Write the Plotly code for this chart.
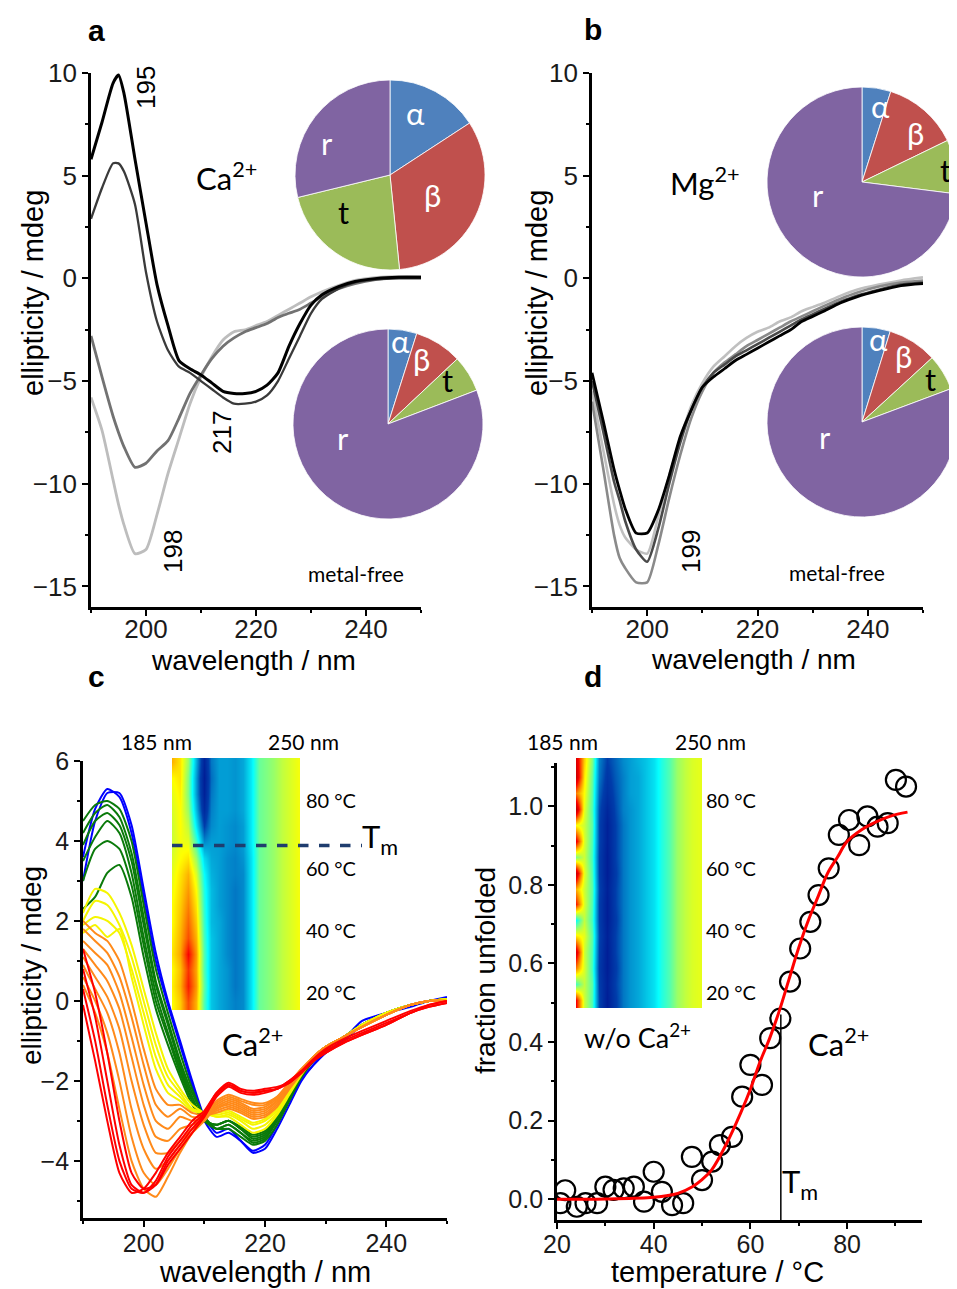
import plotly.graph_objects as go

# The page body adds an 8 px margin, so the figure is drawn 8 px smaller and every
# reference pixel position is shifted by that amount.
OFF = 8
W, H = 957 - OFF, 1289 - OFF
def fx(p): return (p - OFF) / W
def fy(p): return 1 - (p - OFF) / H

ARIAL = "Liberation Sans, Arial, sans-serif"
CALI = "Lato, Open Sans, sans-serif"

# ---------------- panel a / b data ----------------
WL_AB = [190, 192, 194, 195, 196, 198, 200, 202, 204, 206, 208, 210, 212, 214, 216, 218,
         220, 222, 224, 226, 228, 230, 232, 235, 238, 242, 246, 250]
A_BLACK = [5.8, 7.6, 9.5, 9.9, 9.0, 5.8, 2.7, -0.3, -2.3, -4.0, -4.4, -4.7, -5.1, -5.5, -5.6, -5.6,
           -5.5, -5.2, -4.6, -3.3, -2.2, -1.3, -0.8, -0.4, -0.15, 0.0, 0.05, 0.05]
A_DARK = [2.9, 4.4, 5.6, 5.6, 5.2, 3.6, 0.3, -2.1, -3.5, -4.3, -4.6, -5.0, -5.4, -5.8, -6.1, -6.1,
          -6.0, -5.7, -5.0, -3.9, -2.8, -1.7, -1.0, -0.5, -0.2, -0.05, 0.0, 0.0]
A_GRAY = [-2.8, -4.8, -6.7, -7.5, -8.2, -9.2, -9.0, -8.4, -7.9, -6.8, -5.6, -4.7, -3.9, -3.3, -2.9, -2.6,
          -2.4, -2.2, -1.9, -1.7, -1.5, -1.2, -0.9, -0.5, -0.25, -0.05, 0.05, 0.05]
A_LIGHT = [-5.8, -7.4, -9.8, -11.0, -12.0, -13.4, -13.2, -11.5, -9.5, -7.8, -6.1, -4.8, -3.8, -3.0, -2.6, -2.5,
           -2.3, -2.1, -1.8, -1.5, -1.2, -0.9, -0.65, -0.35, -0.1, 0.05, 0.1, 0.1]

B_BLACK = [-4.6, -6.9, -9.3, -10.3, -11.2, -12.4, -12.4, -11.3, -9.6, -7.7, -6.4, -5.3, -4.8, -4.4, -4.0, -3.7,
           -3.4, -3.1, -2.8, -2.5, -2.1, -1.85, -1.6, -1.2, -0.9, -0.6, -0.35, -0.25]
B_DARK = [-5.0, -7.4, -9.9, -10.8, -11.8, -13.2, -13.8, -12.2, -10.0, -8.0, -6.4, -5.3, -4.6, -4.2, -3.8, -3.5,
          -3.2, -2.9, -2.6, -2.3, -2.0, -1.75, -1.5, -1.15, -0.85, -0.55, -0.3, -0.2]
B_GRAY = [-6.0, -9.2, -12.5, -13.6, -14.1, -14.8, -14.8, -13.0, -10.7, -8.6, -6.8, -5.5, -4.6, -4.1, -3.7, -3.3,
          -3.0, -2.7, -2.4, -2.1, -1.85, -1.6, -1.35, -1.0, -0.7, -0.4, -0.2, -0.1]
B_LIGHT = [-5.5, -8.3, -11.0, -12.0, -12.6, -13.2, -13.4, -11.6, -9.6, -7.8, -6.2, -5.1, -4.3, -3.8, -3.3, -2.9,
           -2.6, -2.4, -2.1, -1.9, -1.6, -1.4, -1.2, -0.85, -0.55, -0.3, -0.1, 0.05]

PIE_LABELS = ["α", "β", "t", "r"]
PIE_COLORS = ["#4f81bd", "#c0504d", "#9bbb59", "#8064a2"]
PIE_A_CA = [15.8, 32.6, 22.8, 28.8]
PIE_A_FREE = [4.9, 8.1, 6.2, 80.8]
PIE_B_MG = [4.9, 12.9, 9.2, 73.0]
PIE_B_FREE = [4.8, 8.4, 6.1, 80.7]

# ---------------- panel c data ----------------
WL_C = [190, 192, 194, 196, 198, 200, 202, 204, 206, 208, 210, 212, 214, 216, 218, 220, 222, 224,
        226, 228, 230, 233, 236, 240, 244, 247, 250]
C_BLUE = [
    [3.0, 4.5, 5.2, 5.2, 4.4, 2.8, 1.2, 0.0, -1.0, -2.0, -2.9, -3.3, -3.2, -3.5, -3.8, -3.7, -3.2, -2.6, -2.0, -1.6, -1.3, -0.95, -0.5, -0.3, -0.15, 0.0, 0.05],
    [3.6, 4.8, 5.3, 5.1, 4.2, 2.6, 1.0, -0.1, -1.1, -2.1, -3.0, -3.4, -3.3, -3.5, -3.75, -3.6, -3.1, -2.5, -1.95, -1.6, -1.3, -1.0, -0.6, -0.3, -0.1, 0.0, 0.1],
]
C_GREEN = [
    [4.5, 4.9, 5.0, 4.8, 4.0, 2.4, 0.8, -0.3, -1.3, -2.2, -2.9, -3.2, -3.2, -3.4, -3.6, -3.5, -3.1, -2.5, -1.9, -1.5, -1.2, -0.9, -0.6, -0.3, -0.1, 0.0, 0.05],
    [4.2, 4.7, 4.9, 4.6, 3.7, 2.1, 0.5, -0.5, -1.5, -2.3, -2.9, -3.2, -3.1, -3.3, -3.55, -3.45, -3.0, -2.45, -1.9, -1.5, -1.2, -0.9, -0.6, -0.3, -0.1, 0.0, 0.05],
    [3.9, 4.5, 4.7, 4.4, 3.5, 1.9, 0.4, -0.6, -1.6, -2.4, -3.0, -3.2, -3.1, -3.3, -3.5, -3.4, -3.0, -2.4, -1.85, -1.5, -1.2, -0.9, -0.6, -0.3, -0.1, 0.0, 0.05],
    [3.5, 4.1, 4.5, 4.2, 3.2, 1.6, 0.2, -0.8, -1.7, -2.5, -3.0, -3.1, -3.0, -3.2, -3.45, -3.35, -2.95, -2.4, -1.85, -1.45, -1.15, -0.9, -0.6, -0.3, -0.1, 0.0, 0.05],
    [3.0, 3.8, 4.0, 3.8, 2.9, 1.4, 0.0, -0.9, -1.8, -2.5, -3.0, -3.1, -3.0, -3.2, -3.4, -3.3, -2.9, -2.35, -1.8, -1.45, -1.15, -0.9, -0.6, -0.3, -0.1, 0.0, 0.05],
    [2.3, 2.6, 3.2, 3.4, 2.6, 1.1, -0.2, -1.1, -1.9, -2.6, -3.0, -3.1, -3.0, -3.15, -3.35, -3.25, -2.85, -2.3, -1.8, -1.45, -1.15, -0.9, -0.6, -0.3, -0.1, 0.0, 0.05],
]
C_YELLOW = [
    [2.2, 2.8, 2.7, 2.2, 1.4, 0.3, -0.8, -1.7, -2.2, -2.6, -2.8, -2.9, -2.9, -3.1, -3.3, -3.2, -2.85, -2.35, -1.85, -1.45, -1.15, -0.9, -0.6, -0.3, -0.1, 0.0, 0.05],
    [2.0, 2.5, 2.4, 1.9, 1.1, 0.0, -1.1, -1.9, -2.3, -2.7, -2.8, -2.9, -2.85, -3.0, -3.2, -3.1, -2.8, -2.3, -1.8, -1.45, -1.15, -0.9, -0.6, -0.3, -0.1, 0.0, 0.05],
    [1.9, 2.1, 2.0, 1.7, 0.8, -0.3, -1.4, -2.1, -2.4, -2.7, -2.8, -2.85, -2.8, -2.95, -3.1, -3.0, -2.75, -2.3, -1.8, -1.4, -1.15, -0.9, -0.6, -0.3, -0.1, 0.0, 0.05],
    [1.7, 1.9, 1.6, 1.8, 0.6, -0.6, -1.7, -2.3, -2.5, -2.75, -2.8, -2.8, -2.75, -2.9, -3.05, -2.95, -2.7, -2.25, -1.8, -1.4, -1.15, -0.9, -0.6, -0.3, -0.1, 0.0, 0.05],
]
C_ORANGE = [
    [2.0, 1.7, 1.5, 1.0, 0.0, -1.2, -2.2, -2.6, -2.6, -2.8, -2.85, -2.8, -2.7, -2.8, -2.95, -2.9, -2.65, -2.2, -1.8, -1.4, -1.15, -0.9, -0.65, -0.35, -0.1, 0.0, 0.0],
    [1.8, 1.5, 1.2, 0.6, -0.4, -1.6, -2.6, -2.9, -2.7, -2.9, -2.9, -2.75, -2.65, -2.75, -2.9, -2.85, -2.6, -2.2, -1.8, -1.4, -1.15, -0.9, -0.65, -0.35, -0.1, 0.0, 0.0],
    [1.5, 1.2, 0.9, 0.2, -0.9, -2.1, -3.0, -3.2, -2.9, -3.0, -2.9, -2.7, -2.6, -2.7, -2.85, -2.8, -2.55, -2.15, -1.75, -1.4, -1.15, -0.9, -0.65, -0.35, -0.1, 0.0, 0.0],
    [1.3, 0.9, 0.5, -0.2, -1.4, -2.6, -3.4, -3.5, -3.2, -3.1, -2.95, -2.7, -2.55, -2.65, -2.8, -2.75, -2.5, -2.15, -1.75, -1.4, -1.15, -0.9, -0.65, -0.35, -0.1, 0.0, 0.0],
    [1.1, 0.6, 0.1, -0.7, -2.0, -3.1, -3.8, -3.8, -3.5, -3.2, -3.0, -2.65, -2.5, -2.6, -2.75, -2.7, -2.5, -2.1, -1.75, -1.4, -1.15, -0.9, -0.65, -0.35, -0.1, 0.0, 0.0],
    [0.9, 0.3, -0.3, -1.3, -2.7, -3.7, -4.2, -4.0, -3.6, -3.3, -3.0, -2.6, -2.45, -2.55, -2.7, -2.65, -2.45, -2.1, -1.75, -1.4, -1.15, -0.9, -0.65, -0.35, -0.1, 0.0, 0.0],
    [0.6, 0.0, -0.8, -2.0, -3.4, -4.3, -4.6, -4.2, -3.7, -3.3, -2.95, -2.55, -2.4, -2.5, -2.6, -2.6, -2.4, -2.05, -1.7, -1.4, -1.15, -0.9, -0.65, -0.35, -0.1, 0.0, 0.0],
    [0.4, -0.3, -1.3, -2.7, -4.0, -4.7, -4.9, -4.4, -3.8, -3.3, -2.9, -2.5, -2.35, -2.45, -2.55, -2.55, -2.4, -2.05, -1.7, -1.4, -1.15, -0.9, -0.65, -0.35, -0.1, 0.0, 0.0],
]
C_RED = [
    [1.3, 0.2, -1.3, -3.0, -4.3, -4.7, -4.6, -4.1, -3.7, -3.3, -2.9, -2.4, -2.15, -2.3, -2.35, -2.3, -2.2, -2.0, -1.75, -1.45, -1.2, -0.95, -0.75, -0.5, -0.25, -0.1, 0.0],
    [0.8, -0.4, -2.0, -3.6, -4.6, -4.8, -4.6, -4.0, -3.6, -3.2, -2.85, -2.35, -2.1, -2.25, -2.3, -2.25, -2.2, -2.0, -1.8, -1.5, -1.25, -1.0, -0.8, -0.55, -0.3, -0.1, 0.0],
    [0.3, -1.0, -2.6, -4.0, -4.7, -4.8, -4.5, -3.9, -3.5, -3.1, -2.8, -2.3, -2.1, -2.25, -2.3, -2.25, -2.2, -2.05, -1.8, -1.5, -1.3, -1.05, -0.85, -0.6, -0.3, -0.15, -0.05],
    [-0.1, -1.5, -3.0, -4.3, -4.8, -4.7, -4.3, -3.8, -3.4, -3.0, -2.75, -2.3, -2.05, -2.2, -2.25, -2.2, -2.15, -2.05, -1.8, -1.5, -1.3, -1.05, -0.85, -0.6, -0.3, -0.15, -0.05],
]

# heat-map insets (wavelength columns x temperature rows), colour value on a jet scale
HM_WL = [185, 189, 193, 197, 201, 205, 209, 213, 217, 221, 225, 229, 233, 237, 241, 245, 249]
HM_T = [17, 22, 27, 32, 37, 42, 47, 52, 57, 62, 67, 72, 77, 82, 87, 92]
HM_CA = [
    [0.60, 0.64, 0.74, 0.66, 0.46, 0.34, 0.31, 0.29, 0.27, 0.28, 0.37, 0.48, 0.50, 0.52, 0.55, 0.57, 0.59],
    [0.61, 0.66, 0.78, 0.68, 0.47, 0.34, 0.31, 0.29, 0.26, 0.28, 0.37, 0.48, 0.50, 0.52, 0.55, 0.57, 0.59],
    [0.60, 0.65, 0.76, 0.67, 0.46, 0.34, 0.31, 0.29, 0.26, 0.28, 0.37, 0.48, 0.50, 0.52, 0.55, 0.57, 0.59],
    [0.62, 0.67, 0.80, 0.68, 0.46, 0.34, 0.31, 0.28, 0.26, 0.28, 0.37, 0.48, 0.50, 0.52, 0.55, 0.57, 0.59],
    [0.61, 0.66, 0.74, 0.66, 0.45, 0.34, 0.31, 0.28, 0.26, 0.28, 0.37, 0.48, 0.50, 0.52, 0.55, 0.57, 0.59],
    [0.60, 0.65, 0.72, 0.64, 0.44, 0.33, 0.31, 0.28, 0.26, 0.28, 0.37, 0.48, 0.50, 0.52, 0.55, 0.57, 0.59],
    [0.60, 0.64, 0.70, 0.62, 0.43, 0.33, 0.30, 0.28, 0.26, 0.28, 0.37, 0.48, 0.50, 0.52, 0.55, 0.57, 0.59],
    [0.59, 0.63, 0.68, 0.60, 0.42, 0.33, 0.30, 0.28, 0.26, 0.28, 0.37, 0.48, 0.50, 0.52, 0.55, 0.57, 0.59],
    [0.58, 0.62, 0.66, 0.57, 0.40, 0.32, 0.30, 0.28, 0.27, 0.28, 0.37, 0.48, 0.50, 0.52, 0.55, 0.57, 0.59],
    [0.57, 0.60, 0.62, 0.52, 0.36, 0.31, 0.30, 0.28, 0.27, 0.29, 0.37, 0.48, 0.50, 0.52, 0.55, 0.57, 0.59],
    [0.56, 0.59, 0.58, 0.45, 0.28, 0.30, 0.30, 0.29, 0.28, 0.30, 0.38, 0.48, 0.50, 0.52, 0.55, 0.57, 0.59],
    [0.56, 0.60, 0.55, 0.38, 0.20, 0.28, 0.30, 0.29, 0.28, 0.30, 0.38, 0.48, 0.50, 0.52, 0.55, 0.57, 0.59],
    [0.57, 0.60, 0.52, 0.33, 0.14, 0.27, 0.30, 0.30, 0.29, 0.31, 0.38, 0.48, 0.50, 0.52, 0.55, 0.57, 0.59],
    [0.58, 0.61, 0.50, 0.30, 0.11, 0.26, 0.30, 0.30, 0.29, 0.31, 0.38, 0.48, 0.50, 0.52, 0.55, 0.57, 0.59],
    [0.60, 0.62, 0.50, 0.30, 0.10, 0.25, 0.30, 0.30, 0.29, 0.31, 0.38, 0.48, 0.50, 0.52, 0.55, 0.57, 0.59],
    [0.66, 0.62, 0.52, 0.32, 0.12, 0.26, 0.30, 0.30, 0.29, 0.31, 0.38, 0.48, 0.50, 0.52, 0.55, 0.57, 0.59],
]
HM_NOCA = [
    [0.80, 0.56, 0.46, 0.21, 0.10, 0.19, 0.26, 0.29, 0.31, 0.34, 0.37, 0.42, 0.46, 0.52, 0.55, 0.57, 0.58],
    [0.45, 0.55, 0.47, 0.20, 0.11, 0.20, 0.26, 0.29, 0.31, 0.34, 0.37, 0.42, 0.46, 0.52, 0.55, 0.57, 0.58],
    [0.70, 0.57, 0.45, 0.19, 0.10, 0.19, 0.26, 0.29, 0.31, 0.34, 0.37, 0.42, 0.46, 0.52, 0.55, 0.57, 0.58],
    [0.85, 0.56, 0.46, 0.20, 0.10, 0.20, 0.26, 0.29, 0.31, 0.34, 0.37, 0.42, 0.46, 0.52, 0.55, 0.57, 0.58],
    [0.62, 0.58, 0.47, 0.21, 0.11, 0.20, 0.26, 0.29, 0.31, 0.34, 0.37, 0.42, 0.46, 0.52, 0.55, 0.57, 0.58],
    [0.40, 0.55, 0.45, 0.20, 0.10, 0.19, 0.26, 0.29, 0.31, 0.34, 0.37, 0.42, 0.46, 0.52, 0.55, 0.57, 0.58],
    [0.78, 0.57, 0.46, 0.20, 0.10, 0.20, 0.26, 0.29, 0.31, 0.34, 0.37, 0.42, 0.46, 0.52, 0.55, 0.57, 0.58],
    [0.66, 0.56, 0.47, 0.21, 0.11, 0.20, 0.26, 0.29, 0.31, 0.34, 0.37, 0.42, 0.46, 0.52, 0.55, 0.57, 0.58],
    [0.88, 0.58, 0.46, 0.20, 0.10, 0.19, 0.26, 0.29, 0.31, 0.34, 0.37, 0.42, 0.46, 0.52, 0.55, 0.57, 0.58],
    [0.50, 0.56, 0.45, 0.20, 0.10, 0.20, 0.26, 0.29, 0.31, 0.34, 0.37, 0.42, 0.46, 0.52, 0.55, 0.57, 0.58],
    [0.82, 0.57, 0.46, 0.21, 0.11, 0.20, 0.26, 0.29, 0.31, 0.34, 0.37, 0.42, 0.46, 0.52, 0.55, 0.57, 0.58],
    [0.60, 0.56, 0.47, 0.21, 0.11, 0.20, 0.26, 0.29, 0.31, 0.34, 0.37, 0.42, 0.46, 0.52, 0.55, 0.57, 0.58],
    [0.90, 0.58, 0.46, 0.22, 0.13, 0.21, 0.27, 0.29, 0.31, 0.34, 0.37, 0.42, 0.46, 0.52, 0.55, 0.57, 0.58],
    [0.70, 0.60, 0.47, 0.24, 0.16, 0.22, 0.27, 0.30, 0.31, 0.34, 0.37, 0.42, 0.46, 0.52, 0.55, 0.57, 0.58],
    [0.88, 0.62, 0.48, 0.26, 0.18, 0.23, 0.27, 0.30, 0.31, 0.34, 0.37, 0.42, 0.46, 0.52, 0.55, 0.57, 0.58],
    [0.85, 0.64, 0.50, 0.27, 0.20, 0.24, 0.28, 0.30, 0.32, 0.34, 0.37, 0.42, 0.46, 0.52, 0.55, 0.57, 0.58],
]
T_M = 65.8

# ---------------- panel d data ----------------
T_D = [20.7, 21.7, 24.1, 25.9, 28.3, 30.0, 31.7, 33.8, 35.9, 38.0, 40.0, 41.7, 43.8, 46.1, 47.9,
       50.0, 52.1, 53.7, 56.2, 58.3, 60.0, 62.4, 64.1, 66.2, 68.2, 70.3, 72.4, 74.1, 76.2, 78.3,
       80.4, 82.5, 84.2, 86.3, 88.4, 90.1, 92.2]
F_D = [-0.01, 0.023, -0.019, -0.01, -0.01, 0.032, 0.024, 0.028, 0.032, -0.006, 0.07, 0.019, -0.015,
       -0.01, 0.108, 0.049, 0.096, 0.138, 0.159, 0.261, 0.342, 0.291, 0.41, 0.46, 0.554, 0.638,
       0.706, 0.774, 0.842, 0.927, 0.965, 0.901, 0.974, 0.948, 0.957, 1.067, 1.05]
FIT_T = [20, 30, 40, 45, 48, 50, 52, 55, 58, 60, 62, 64, 66, 68, 70, 72, 74, 76, 78, 80, 83, 86, 89, 92.5]
FIT_F = [0.0, 0.001, 0.005, 0.015, 0.032, 0.05, 0.075, 0.14, 0.22, 0.28, 0.35, 0.41, 0.48, 0.56,
         0.64, 0.71, 0.77, 0.83, 0.87, 0.91, 0.94, 0.96, 0.975, 0.985]
TM_D = 66.3
TM_LINE_F = [-0.06, 0.47]

fig = go.Figure()

def line(x, y, color, width, xa, ya, shape="spline"):
    fig.add_trace(go.Scatter(x=x, y=y, mode="lines", xaxis=xa, yaxis=ya,
                             line=dict(color=color, width=width, shape=shape, smoothing=0.6),
                             showlegend=False, hoverinfo="skip"))

# panel a
line(WL_AB, A_LIGHT, "#bdbdbd", 2.8, "x", "y")
line(WL_AB, A_GRAY, "#727272", 2.8, "x", "y")
line(WL_AB, A_DARK, "#3a3a3a", 2.3, "x", "y")
line(WL_AB, A_BLACK, "#000000", 3.0, "x", "y")
# panel b
line(WL_AB, B_LIGHT, "#c0c0c0", 2.6, "x2", "y2")
line(WL_AB, B_GRAY, "#8a8a8a", 2.6, "x2", "y2")
line(WL_AB, B_DARK, "#4a4a4a", 2.6, "x2", "y2")
line(WL_AB, B_BLACK, "#000000", 2.8, "x2", "y2")
# panel c
for grp, col in [(C_BLUE, "#0000ff"), (C_GREEN, "#0a7a0a"), (C_YELLOW, "#f5f500"),
                 (C_ORANGE, "#ff8a1a"), (C_RED, "#ff0000")]:
    for ys in grp:
        line(WL_C, ys, col, 2.0, "x3", "y3")

# heat maps
for z, xa, ya in [(HM_CA, "x5", "y5"), (HM_NOCA, "x6", "y6")]:
    fig.add_trace(go.Heatmap(x=HM_WL, y=HM_T, z=z, zmin=0, zmax=1, colorscale="Jet",
                             zsmooth="best", showscale=False, xaxis=xa, yaxis=ya, hoverinfo="skip"))

# panel d
fig.add_trace(go.Scatter(x=[TM_D, TM_D], y=TM_LINE_F, mode="lines", xaxis="x4", yaxis="y4",
                         line=dict(color="black", width=1.5), showlegend=False, hoverinfo="skip"))
fig.add_trace(go.Scatter(x=T_D, y=F_D, mode="markers", xaxis="x4", yaxis="y4",
                         marker=dict(symbol="circle-open", size=20, color="black", line=dict(width=2.2)),
                         showlegend=False, hoverinfo="skip"))
fig.add_trace(go.Scatter(x=FIT_T, y=FIT_F, mode="lines", xaxis="x4", yaxis="y4",
                         line=dict(color="#ff0000", width=3, shape="spline"),
                         showlegend=False, hoverinfo="skip"))

# pies
def pie(vals, cx, cy, r):
    fig.add_trace(go.Pie(values=vals, labels=PIE_LABELS, sort=False, direction="clockwise",
                         rotation=0, textinfo="none", hoverinfo="skip", showlegend=False,
                         marker=dict(colors=PIE_COLORS, line=dict(color="white", width=0.8)),
                         domain=dict(x=[fx(cx - r), min(1.0, fx(cx + r))], y=[fy(cy + r), fy(cy - r)])))

pie(PIE_A_CA, 390, 175, 95)
pie(PIE_A_FREE, 388, 424, 95)
pie(PIE_B_MG, 862, 182, 95)
pie(PIE_B_FREE, 862, 422, 95)

def axis(x0, x1, rng, dtick, tick0, mdtick, mtick0, anchor, horiz=True, fmt=None, size=26, standoff=0):
    d = dict(domain=[fx(x0), fx(x1)] if horiz else [fy(x1), fy(x0)], range=rng, anchor=anchor,
             automargin=False,
             showline=True, linewidth=2.8, linecolor="black", ticks="outside", ticklen=6,
             tickwidth=2.4, tickcolor="black", dtick=dtick, tick0=tick0,
             minor=dict(ticks="outside", ticklen=3.5, tickwidth=2, tickcolor="black",
                        dtick=mdtick, tick0=mtick0),
             showgrid=False, zeroline=False, fixedrange=True,
             tickfont=dict(family=ARIAL, size=size, color="#1a1a1a"))
    if standoff:
        d["ticklabelstandoff"] = standoff
    if fmt:
        d["tickformat"] = fmt
    return d

inset_common = dict(showline=False, showticklabels=False, ticks="", showgrid=False,
                    zeroline=False, fixedrange=True, automargin=False)

fig.update_layout(
    width=W, height=H, margin=dict(l=0, r=0, t=0, b=0, autoexpand=False),
    paper_bgcolor="white", plot_bgcolor="rgba(0,0,0,0)",
    xaxis=axis(91, 421, [190, 250], 20, 200, 10, 190, "y", standoff=-9),
    yaxis=axis(73, 607, [-16, 10], 5, 0, 2.5, 0, "x", horiz=False),
    xaxis2=axis(592, 923, [190, 250], 20, 200, 10, 190, "y2", standoff=-9),
    yaxis2=axis(73, 607, [-16, 10], 5, 0, 2.5, 0, "x2", horiz=False),
    xaxis3=axis(83, 447, [190, 250], 20, 200, 10, 190, "y3", size=25, standoff=-5),
    yaxis3=axis(761, 1218, [-5.43, 6], 2, 0, 1, 0, "x3", horiz=False, size=25),
    xaxis4=axis(557, 922, [20, 95.5], 20, 20, 10, 20, "y4", size=25, standoff=-6),
    yaxis4=axis(763, 1220, [-0.0527, 1.11], 0.2, 0, 0.1, 0, "x4", horiz=False, fmt=".1f", size=25),
    xaxis5=dict(domain=[fx(172), fx(300)], range=[185, 250], anchor="y5", **inset_common),
    yaxis5=dict(domain=[fy(1010), fy(758)], range=[14.4, 93.1], anchor="x5", **inset_common),
    xaxis6=dict(domain=[fx(576), fx(702)], range=[185, 250], anchor="y6", **inset_common),
    yaxis6=dict(domain=[fy(1008), fy(758)], range=[14.4, 93.1], anchor="x6", **inset_common),
)

# Tm dashed line in panel c inset
fig.add_shape(type="line", xref="paper", yref="y5", x0=fx(172), x1=fx(362), y0=T_M, y1=T_M,
              line=dict(color="#1f3d6e", width=3.5, dash="dash"))

anns = []
def ann(text, x, y, size, family=ARIAL, color="black", angle=0, xanchor="center"):
    anns.append(dict(text=text, x=fx(x), y=fy(y), xref="paper", yref="paper", showarrow=False,
                     textangle=angle, xanchor=xanchor, yanchor="middle",
                     font=dict(family=family, size=size, color=color)))

# panel letters
for t, x, y in [("a", 96, 30), ("b", 593, 29), ("c", 96, 676), ("d", 593, 676)]:
    ann("<b>%s</b>" % t, x, y, 30)

# axis titles
ann("ellipticity / mdeg", 33, 293, 29, angle=-90)
ann("ellipticity / mdeg", 537, 293, 29, angle=-90)
ann("ellipticity / mdeg", 31, 966, 28, angle=-90)
ann("fraction unfolded", 486, 970, 28, angle=-90)
ann("wavelength / nm", 253, 660, 28)
ann("wavelength / nm", 753, 659, 28)
ann("wavelength / nm", 265, 1272, 29)
ann("temperature / °C", 717, 1272, 29)

# band labels
ann("195", 146, 88, 26, angle=-90)
ann("217", 222, 433, 26, angle=-90)
ann("198", 173, 552, 26, angle=-90)
ann("199", 691, 552, 26, angle=-90)

ann("Ca<sup>2+</sup>", 226, 176, 31, family=CALI)
ann("Mg<sup>2+</sup>", 705, 181, 31, family=CALI)
ann("metal-free", 356, 573, 21, family=CALI)
ann("metal-free", 837, 572, 21, family=CALI)

# pie labels
for t, x, y, c in [("α", 415, 113, "white"), ("β", 432, 195, "white"), ("t", 343, 212, "black"),
                   ("r", 327, 143, "white"),
                   ("α", 400, 341, "white"), ("β", 421, 359, "white"), ("t", 447, 380, "black"),
                   ("r", 343, 438, "white"),
                   ("α", 880, 106, "white"), ("β", 915, 133, "white"), ("t", 945, 170, "black"),
                   ("r", 818, 195, "white"),
                   ("α", 878, 339, "white"), ("β", 903, 356, "white"), ("t", 930, 379, "black"),
                   ("r", 825, 437, "white")]:
    ann(t, x, y, 31, family=CALI, color=c)

# inset labels panel c
ann("185 nm", 156, 741, 21, family=CALI)
ann("250 nm", 303, 741, 21, family=CALI)
for t, y in [("80 °C", 800), ("60 °C", 868), ("40 °C", 930), ("20 °C", 992)]:
    ann(t, 304, y, 20, family=CALI, xanchor="left")
    ann(t, 704, y, 20, family=CALI, xanchor="left")
ann("T<sub>m</sub>", 380, 838, 31, family=CALI)
ann("Ca<sup>2+</sup>", 252, 1042, 31, family=CALI)

# inset labels panel d
ann("185 nm", 562, 741, 21, family=CALI)
ann("250 nm", 710, 741, 21, family=CALI)
ann("w/o Ca<sup>2+</sup>", 637, 1036, 27, family=CALI)
ann("Ca<sup>2+</sup>", 838, 1042, 31, family=CALI)
ann("T<sub>m</sub>", 800, 1183, 31, family=CALI)

fig.update_layout(annotations=anns)
fig.write_html("out.html")
